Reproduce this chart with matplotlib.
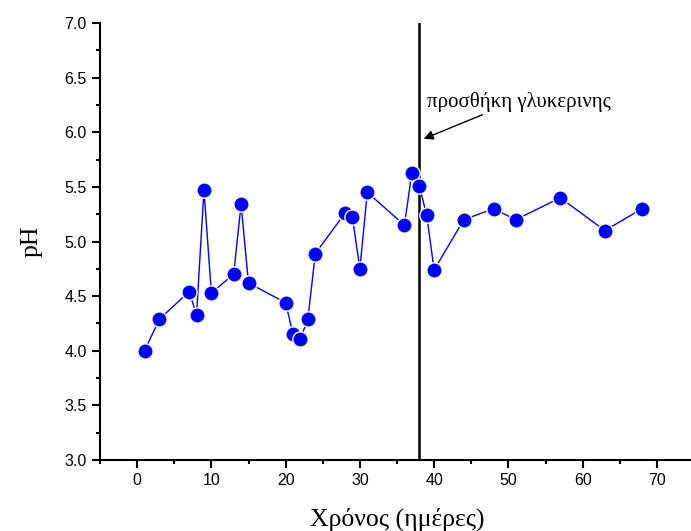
import matplotlib
matplotlib.use("Agg")
import matplotlib.pyplot as plt
from matplotlib.ticker import MultipleLocator

days = [1, 3, 7, 8, 9, 10, 13, 14, 15, 20, 21, 22, 23, 24, 28, 29, 30, 31,
        36, 37, 38, 39, 40, 44, 48, 51, 57, 63, 68]
ph = [4.00, 4.29, 4.54, 4.33, 5.47, 4.53, 4.70, 5.34, 4.62, 4.44, 4.15, 4.11,
      4.29, 4.89, 5.26, 5.22, 4.75, 5.45, 5.15, 5.63, 5.51, 5.24, 4.74, 5.20,
      5.30, 5.20, 5.40, 5.10, 5.30]
glycerol_day = 38
annotation = "προσθήκη γλυκερινης"
xlabel = "Χρόνος (ημέρες)"
ylabel = "pH"

fig = plt.figure(figsize=(6.91, 5.31), dpi=100)
ax = fig.add_axes([100 / 691, 71 / 531, 594 / 691, 437 / 531])

ax.plot(days, ph, color="blue", lw=1, marker="o", ms=11,
        mfc="blue", mec="white", mew=1.0, zorder=3)
ax.axvline(glycerol_day, color="black", lw=1.8, zorder=2)

ax.text(39.0, 6.28, annotation, fontsize=15, family="Liberation Serif",
        ha="left", va="center")
ax.annotate("", xy=(38.6, 5.94), xytext=(46.5, 6.16),
            arrowprops=dict(arrowstyle="-|>", color="black", lw=1,
                            mutation_scale=14, shrinkA=0, shrinkB=0))

ax.set_xlim(-5, 75)
ax.set_ylim(3.0, 7.0)
ax.xaxis.set_major_locator(MultipleLocator(10))
ax.xaxis.set_minor_locator(MultipleLocator(5))
ax.yaxis.set_major_locator(MultipleLocator(0.5))
ax.yaxis.set_minor_locator(MultipleLocator(0.25))
ax.yaxis.set_major_formatter(plt.FormatStrFormatter("%.1f"))

for s in ["top", "right"]:
    ax.spines[s].set_visible(False)
for s in ["left", "bottom"]:
    ax.spines[s].set_linewidth(1.5)

ax.tick_params(which="major", length=6, width=1.5, direction="out",
               labelsize=11.5)
ax.tick_params(which="minor", length=3, width=1.5, direction="out")
for lab in ax.get_xticklabels() + ax.get_yticklabels():
    lab.set_family("Liberation Sans")

ax.set_xlabel(xlabel, fontsize=18.5, family="Liberation Serif", labelpad=14)
ax.set_ylabel(ylabel, fontsize=18.5, family="Liberation Serif", labelpad=16)

fig.savefig("out.png", dpi=100)
